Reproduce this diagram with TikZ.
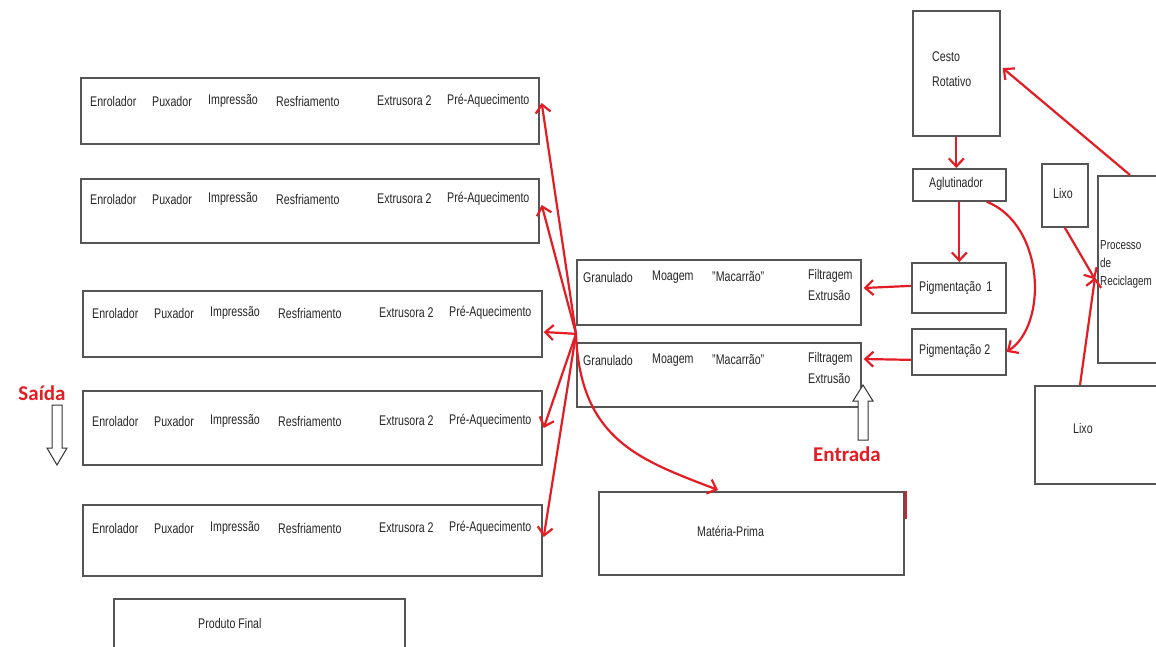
\documentclass[tikz,border=0pt]{standalone}
\usepackage{fontspec}
\setmainfont{Liberation Sans}[FakeStretch=0.76]
\newfontfamily\redfont{Carlito}
\usetikzlibrary{arrows.meta,calc}
\definecolor{arrred}{RGB}{228,28,36}
\definecolor{boxgray}{RGB}{85,85,85}
\newcommand\rowtexts[2]{%
  \foreach \dx/\t in {10/Enrolador,72/Puxador,128/Impressão,196/Resfriamento,297/Extrusora 2,367/Pré-Aquecimento}
    {\node[lbl] (#1t\dx) at ($(#1.north west)+(\dx,#2)$) {\t};}%
}
\newcommand\midtexts[1]{%
  \node[lbl] (#1ta) at ($(#1.north west)+(7,18)$) {Granulado};
  \node[lbl] (#1tb) at ($(#1.north west)+(76,18)$) {Moagem};
  \node[lbl] (#1tc) at ($(#1.north west)+(136,18)$) {"Macarrão"};
  \node[lbl] (#1td) at ($(#1.north west)+(232,17)$) {Filtragem};
  \node[lbl] (#1te) at ($(#1.north west)+(232,37)$) {Extrusão};
}
\begin{document}
\begin{tikzpicture}[x=1pt,y=-1pt,
  box/.style={draw=boxgray,line width=1.7pt,fill=white,anchor=north west,inner sep=0pt},
  lbl/.style={font=\fontsize{14}{16}\selectfont,anchor=west,inner sep=0pt,text=black!85},
  arr/.style={draw=arrred,line width=2.2pt,-{Straight Barb[length=8pt,width=15pt,line width=2.2pt]}},
  hollow/.style={draw=black!80,line width=1pt,fill=white},
  redlbl/.style={font=\redfont\bfseries\fontsize{21}{24}\selectfont,text=arrred,inner sep=0pt}]
\useasboundingbox (0,0) rectangle (1156,646);
\clip (0,0) rectangle (1156,646);
\fill[white] (0,0) rectangle (1156,646);

% left row boxes
\node[box,minimum width=458pt,minimum height=66pt] (r1) at (80,77) {};
\node[box,minimum width=458pt,minimum height=64pt] (r2) at (80,178) {};
\node[box,minimum width=459pt,minimum height=66pt] (r3) at (82,290) {};
\node[box,minimum width=459pt,minimum height=74pt] (r4) at (82,390) {};
\node[box,minimum width=459pt,minimum height=71pt] (r5) at (82,504) {};
\rowtexts{r1}{24}
\rowtexts{r2}{21}
\rowtexts{r3}{23}
\rowtexts{r4}{31}
\rowtexts{r5}{24}

\node[box,minimum width=291pt,minimum height=60pt] (pf) at (113,598) {};
\node[lbl] (pft) at (198,623) {Produto Final};

% middle boxes
\node[box,minimum width=284pt,minimum height=65pt] (g1) at (576,259) {};
\node[box,minimum width=284pt,minimum height=64pt] (g2) at (576,342) {};
\midtexts{g1}
\midtexts{g2}

\node[box,minimum width=305pt,minimum height=83pt] (mp) at (598,491) {};
\node[lbl] (mpt) at (697,531) {Matéria-Prima};

% right side
\node[box,minimum width=94pt,minimum height=50pt] (p1) at (911,262) {};
\node[lbl] (p1t) at (919,288) {Pigmentação\hspace{5pt}1};
\node[box,minimum width=94pt,minimum height=46pt] (p2) at (911,328) {};
\node[lbl] (p2t) at (919,351) {Pigmentação 2};

\node[box,minimum width=87pt,minimum height=125pt] (cr) at (912,10) {};
\node[lbl] (crt1) at (932,57) {Cesto};
\node[lbl] (crt2) at (932,81) {Rotativo};

\node[box,minimum width=93pt,minimum height=32pt] (ag) at (912,168) {};
\node[lbl] (agt) at (929,184) {Aglutinador};

\node[box,minimum width=46pt,minimum height=63pt] (lx1) at (1041,163) {};
\node[lbl] (lx1t) at (1053,193) {Lixo};

\node[box,minimum width=80pt,minimum height=187pt] (pr) at (1097,175) {};
\node[lbl,align=left,anchor=north west,font=\fontsize{13}{18}\selectfont] (prt) at (1100,240) {Processo\\de\\Reciclagem};

\node[box,minimum width=140pt,minimum height=98pt] (lx2) at (1034,385) {};
\node[lbl] (lx2t) at (1073,428) {Lixo};

% hub
\coordinate (hub) at ($(g1.south west)!0.5!(g2.north west)$);

% red connectors
\draw[arr] (hub) -- ($(r1.north east)+(2,26)$);
\draw[arr] (hub) -- ($(r2.north east)+(2,27)$);
\draw[arr] (hub) -- ($(r3.north east)+(1,42)$);
\draw[arr] (hub) -- ($(r4.north east)+(1,38)$);
\draw[arr] (hub) -- ($(r5.north east)+(1,33)$);
\draw[arr] (hub) .. controls (580,440) and (640,460) .. ($(mp.north west)+(120,-1)$);
\draw[draw=arrred,line width=2pt] ($(mp.north east)+(1,0)$) -- ($(mp.north east)+(1,28)$);

\draw[arr] ($(p1.west)+(0,-2)$) -- ($(g1.north east)+(2,29)$);
\draw[arr] ($(p2.west)+(0,8)$) -- ($(g2.north east)+(2,17)$);

\draw[arr] (cr.south) -- (cr.south |- ag.north);
\draw[arr] (ag.south) -- (ag.south |- p1.north);
\draw[arr] ($(ag.south east)+(-20,0)$) .. controls (1045,225) and (1048,325) .. (p2.east);

\draw[arr] ($(pr.north west)+(33,0)$) -- ($(cr.north east)+(2,58)$);
\draw[arr] (lx1.south) -- ($(pr.west)+(-2,10)$);
\draw[arr] ($(lx2.north west)+(46,0)$) -- ($(pr.west)+(-2,8)$);

% Saida / Entrada
\node[redlbl] (saida) at (42,393) {Saída};
\node[redlbl] (entrada) at (847,454) {Entrada};
\draw[hollow] (52,405) -- (62,405) -- (62,448) -- (67,448) -- (57,465) -- (47,448) -- (52,448) -- cycle;
\draw[hollow] (858,440) -- (868,440) -- (868,401) -- (873,401) -- (863,385) -- (853,401) -- (858,401) -- cycle;
\end{tikzpicture}
\end{document}
